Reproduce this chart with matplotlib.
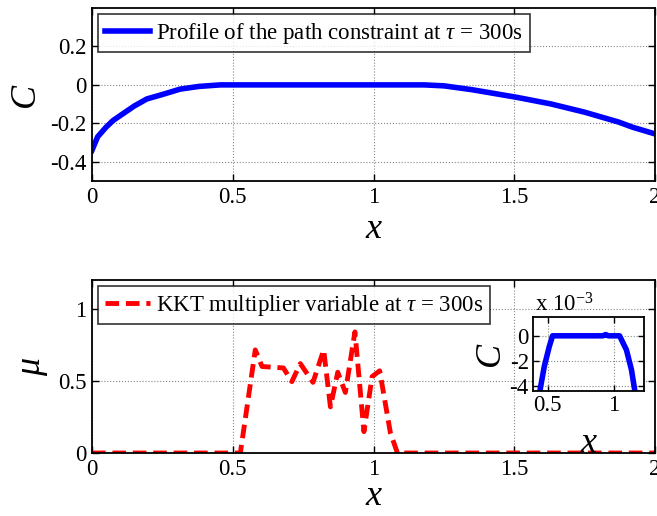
import matplotlib
matplotlib.use("Agg")
import matplotlib.pyplot as plt

plt.rcParams['font.family'] = ['Liberation Serif', 'DejaVu Serif']
plt.rcParams['mathtext.fontset'] = 'custom'
plt.rcParams['mathtext.rm'] = 'Liberation Serif'
plt.rcParams['mathtext.it'] = 'Liberation Serif:italic'

# --- data ---
x_top = [0, 0.02, 0.05, 0.075, 0.1, 0.15, 0.195, 0.25, 0.313, 0.38, 0.456, 0.5, 1.0, 1.18, 1.25, 1.35, 1.51, 1.63, 1.75, 1.87, 1.92, 2.0]
c_top = [-0.34, -0.27, -0.22, -0.185, -0.16, -0.11, -0.073, -0.05, -0.022, -0.008, 0, 0, 0, 0, -0.005, -0.025, -0.065, -0.099, -0.142, -0.193, -0.22, -0.255]

x_mu = [0, 0.527, 0.58, 0.604, 0.68, 0.71, 0.74, 0.785, 0.823, 0.847, 0.873, 0.90, 0.934, 0.966, 0.995, 1.022, 1.06, 1.085, 2.0]
mu = [0, 0, 0.715, 0.6, 0.59, 0.495, 0.62, 0.49, 0.715, 0.32, 0.56, 0.42, 0.84, 0.148, 0.53, 0.57, 0.14, 0, 0]

x_in = [0.43, 0.442, 0.475, 0.513, 0.538, 0.918, 0.94, 0.96, 1.045, 1.097, 1.135, 1.17]
c_in_e3 = [-5, -4.4, -2.46, -0.86, 0, 0, 0.1, 0, 0, -1.12, -2.7, -5]

top_label = r'Profile of the path constraint at $\tau$ = 300s'
bot_label = r'KKT multiplier variable at $\tau$ = 300s'

W, H = 657, 516
fig = plt.figure(figsize=(W/100, H/100), dpi=100)

def style(ax, fs=16.5):
    ax.tick_params(direction='in', top=True, right=True, length=5, width=1,
                   labelsize=fs, pad=4)
    ax.grid(True, linestyle=':', color='#888888', linewidth=0.8)
    for s in ax.spines.values():
        s.set_linewidth(1.3)
        s.set_color('black')

ax1 = fig.add_axes([92/W, 1-181/H, 563/W, 173/H])
ax1.plot(x_top, c_top, color='#0000ff', linewidth=4, label=top_label)
ax1.set_xlim(0, 2)
ax1.set_ylim(-0.5, 0.4)
ax1.set_xticks([0, 0.5, 1, 1.5, 2])
ax1.set_xticklabels(['0', '0.5', '1', '1.5', '2'])
ax1.set_yticks([-0.4, -0.2, 0, 0.2])
ax1.set_yticklabels(['-0.4', '-0.2', '0', '0.2'])
style(ax1)
ax1.set_xlabel('x', fontsize=26, fontstyle='italic', labelpad=4)
ax1.set_ylabel('C', fontsize=26, fontstyle='italic', labelpad=6)
leg1 = ax1.legend(loc='upper left', fontsize=16.5, frameon=True, fancybox=False,
                  edgecolor='black', handlelength=2.0, borderpad=0.3,
                  borderaxespad=0.25, handletextpad=0.25)
leg1.get_frame().set_linewidth(1.2)

ax2 = fig.add_axes([92/W, 1-453/H, 563/W, 173/H])
ax2.plot(x_mu, mu, color='#ff0000', linewidth=3.5, linestyle=(0, (2.8, 1.4)), label=bot_label)
ax2.set_xlim(0, 2)
ax2.set_ylim(0, 1.2)
ax2.set_xticks([0, 0.5, 1, 1.5, 2])
ax2.set_xticklabels(['0', '0.5', '1', '1.5', '2'])
ax2.set_yticks([0, 0.5, 1])
ax2.set_yticklabels(['0', '0.5', '1'])
style(ax2)
ax2.set_xlabel('x', fontsize=26, fontstyle='italic', labelpad=0)
ax2.set_ylabel(r'$\mu$', fontsize=26, labelpad=6)
leg2 = ax2.legend(loc='upper left', fontsize=16.5, frameon=True, fancybox=False,
                  edgecolor='black', handlelength=2.0, borderpad=0.3,
                  borderaxespad=0.25, handletextpad=0.25)
leg2.get_frame().set_linewidth(1.2)

ax3 = fig.add_axes([533/W, 1-391/H, 111/W, 74/H])
ax3.plot(x_in, c_in_e3, color='#0000ff', linewidth=4)
ax3.set_xlim(0.39, 1.23)
ax3.set_ylim(-4.4, 1.5)
ax3.set_xticks([0.5, 1])
ax3.set_xticklabels(['0.5', '1'])
ax3.set_yticks([-4, -2, 0])
ax3.set_yticklabels(['-4', '-2', '0'])
style(ax3, fs=16.5)
ax3.tick_params(pad=3, length=4)
ax3.set_xlabel('x', fontsize=26, fontstyle='italic', labelpad=8)
ax3.set_ylabel('C', fontsize=26, fontstyle='italic', labelpad=2)
ax3.text(0.02, 1.0, r'x 10$^{-3}$', transform=ax3.transAxes, fontsize=16.5,
         ha='left', va='bottom')

fig.savefig('out.png', dpi=100)
